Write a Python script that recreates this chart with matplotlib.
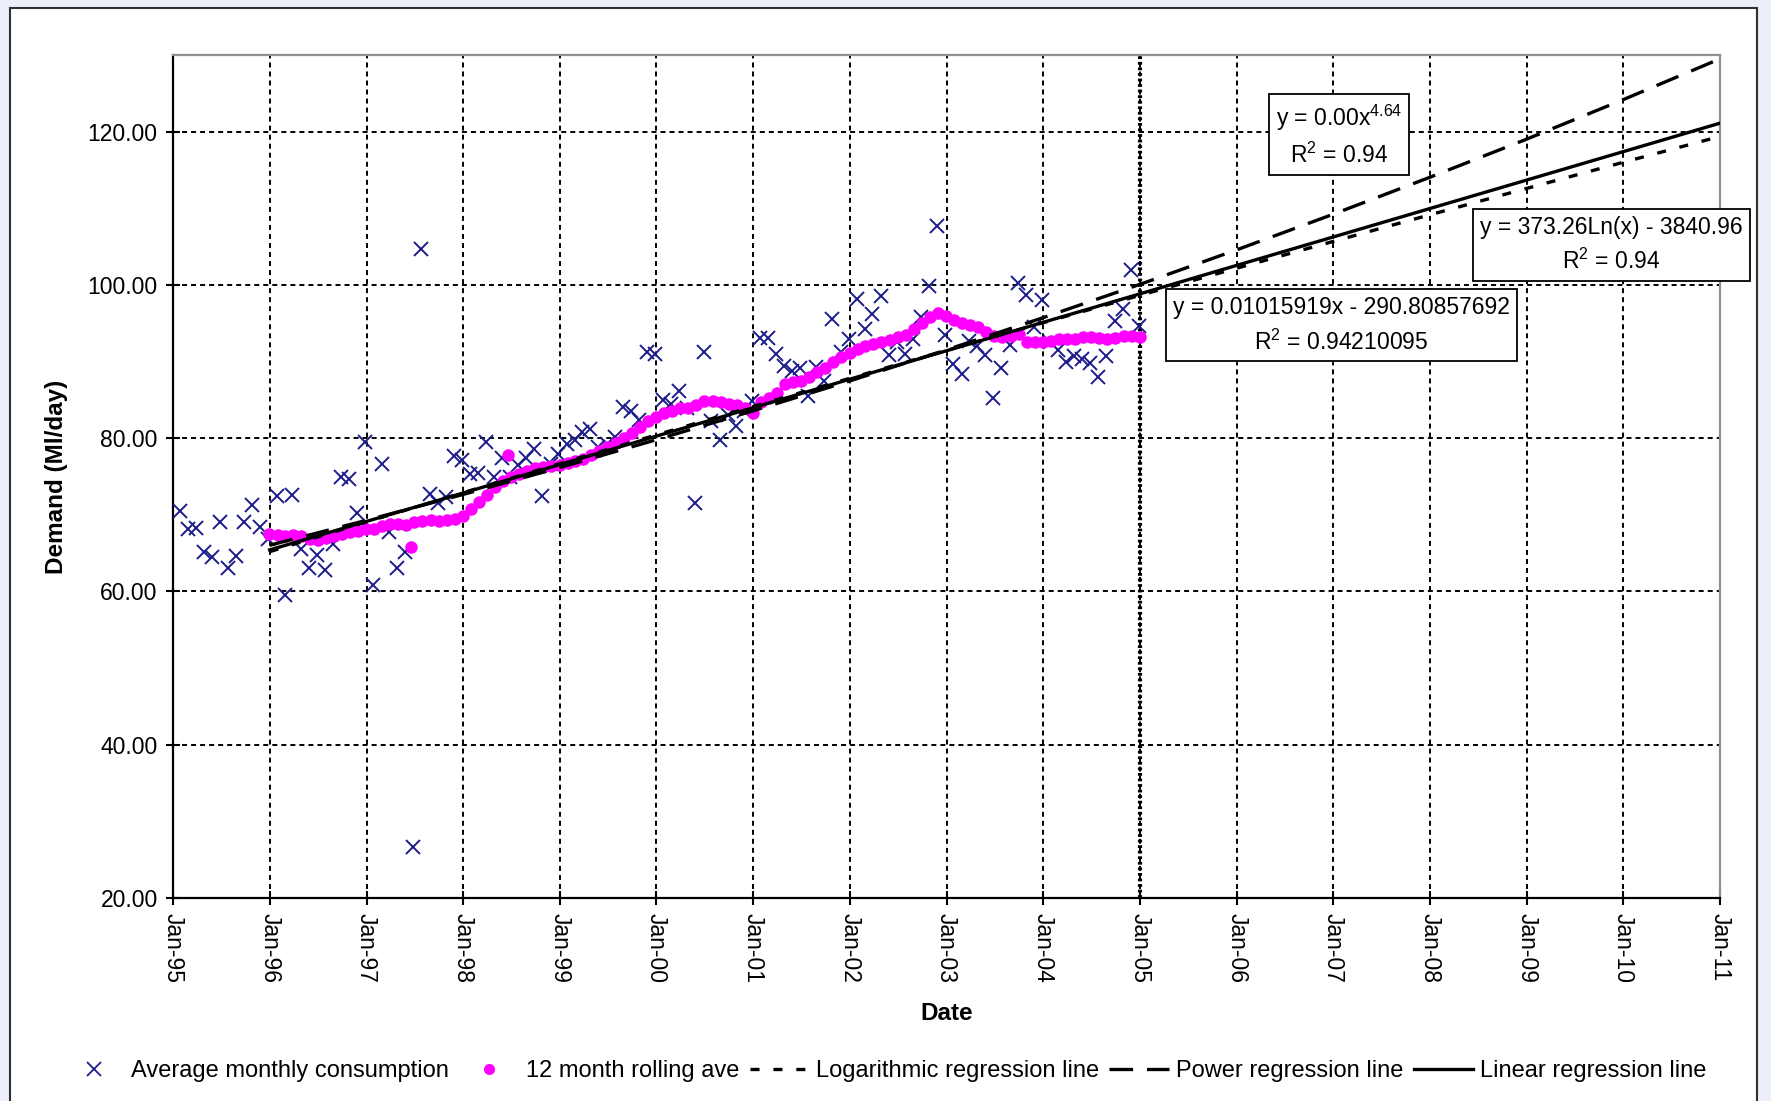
import datetime as dt
import matplotlib
matplotlib.use("Agg")
import matplotlib.pyplot as plt
import matplotlib.dates as mdates
from matplotlib.patches import Rectangle
from matplotlib.lines import Line2D
import pandas as pd

plt.rcParams['font.family'] = ['Liberation Sans', 'DejaVu Sans']
plt.rcParams['mathtext.fontset'] = 'custom'
plt.rcParams['mathtext.rm'] = 'Liberation Sans'
plt.rcParams['lines.scale_dashes'] = False

# average monthly consumption (Ml/day), Jan-95 .. Dec-04
monthly = [70.5, 68.1, 68.3, 65.1, 64.5, 69.1, 63.0, 64.6, 69.0, 71.3, 68.4, 66.9,
           72.5, 59.6, 72.6, 65.5, 63.1, 64.8, 62.8, 66.2, 74.9, 74.7, 70.3, 79.5,
           60.8, 76.6, 67.7, 63.0, 65.1, 26.6, 104.7, 72.7, 71.5, 72.3, 77.7, 77.1,
           75.3, 75.5, 79.5, 74.9, 77.4, 74.9, 76.5, 77.4, 78.6, 72.5, 76.6, 78.0,
           79.2, 79.7, 80.8, 81.2, 78.8, 79.2, 80.1, 84.1, 83.6, 82.4, 91.2, 91.0,
           85.0, 84.5, 86.2, 84.0, 71.5, 91.3, 82.2, 79.8, 83.0, 81.6, 83.5, 84.9,
           93.1, 93.1, 91.05, 89.4, 88.8, 89.1, 85.5, 89.3, 87.5, 95.5, 91.2, 92.9,
           98.1, 94.2, 96.2, 98.6, 90.8, 92.5, 91.0, 92.9, 95.8, 99.9, 107.7, 93.5,
           89.7, 88.4, 92.7, 92.05, 90.8, 85.3, 89.2, 92.2, 100.3, 98.7, 94.5, 98.0,
           92.6, 91.5, 90.0, 90.7, 90.4, 89.8, 88.0, 90.7, 95.3, 96.8, 102.0, 94.7]
monthly_dates = pd.date_range('1995-01-01', periods=len(monthly), freq='MS') + pd.Timedelta(days=26)

# 12 month rolling average, Dec-95 .. Dec-04
rolling = [67.5, 67.4, 67.3, 67.4, 67.2, 66.9, 66.7, 67.0, 67.3, 67.5, 67.7, 67.9,
           68.1, 68.2, 68.5, 68.8, 68.8, 68.7, 69.0, 69.2, 69.3, 69.2, 69.3, 69.5,
           69.8, 70.8, 71.7, 72.6, 73.6, 74.4, 74.9, 75.3, 75.7, 76.1, 76.3, 76.4,
           76.5, 76.7, 77.0, 77.3, 77.8, 78.3, 78.9, 79.4, 80.0, 80.7, 81.5, 82.2,
           82.8, 83.3, 83.6, 83.9, 84.0, 84.3, 84.9, 84.8, 84.7, 84.5, 84.3, 84.0,
           83.3, 84.7, 85.3, 85.9, 87.1, 87.3, 87.4, 88.0, 88.6, 89.2, 90.0, 90.6,
           91.1, 91.6, 92.0, 92.3, 92.5, 92.8, 93.2, 93.5, 94.2, 95.0, 95.8, 96.3,
           96.0, 95.4, 95.0, 94.8, 94.5, 93.9, 93.3, 93.2, 93.4, 93.6, 92.6, 92.5,
           92.5, 92.7, 92.9, 92.9, 93.0, 93.2, 93.2, 93.1, 92.9, 93.1, 93.4, 93.3,
           93.2]
rolling_dates = pd.date_range('1995-12-31', periods=len(rolling), freq='ME')
rolling_extra = [65.8, 77.85]
rolling_extra_dates = pd.to_datetime(['1997-06-18', '1998-06-18'])

# regression lines, value at 1 Jan of each year
trend_years = list(range(1996, 2012))
log_trend = [65.19, 69.07, 72.89, 76.68, 80.43, 84.15, 87.82, 91.46,
             95.07, 98.65, 102.18, 105.68, 109.15, 112.60, 116.01, 119.38]
power_trend = [66.03, 69.29, 72.66, 76.17, 79.80, 83.58, 87.48, 91.53,
               95.73, 100.08, 104.58, 109.23, 114.05, 119.03, 124.19, 129.51]
linear_trend = [65.42, 69.14, 72.85, 76.56, 80.27, 83.99, 87.70, 91.41,
                95.12, 98.84, 102.55, 106.26, 109.97, 113.69, 117.40, 121.11]
trend_dates = [dt.datetime(y, 1, 1) for y in trend_years]

NAVY = '#1c1c8a'
MAGENTA = '#ff00ff'
FS = 16.5

fig = plt.figure(figsize=(17.71, 11.01), dpi=100, facecolor='#eceefa')
fig.patches.append(Rectangle((10 / 1771, -0.01), 1747 / 1771, 1 - 8 / 1101 + 0.01,
                             transform=fig.transFigure, fc='white', ec='#303030',
                             lw=1.5, zorder=-10))

ax = fig.add_axes([0.0977, 0.1844, 0.8735, 0.7656])
ax.set_zorder(1)

ax.plot(monthly_dates, monthly, ls='none', marker='x', ms=10, mew=1.4, color=NAVY, zorder=3)
ax.plot(rolling_dates, rolling, ls='none', marker='o', ms=9, mew=0, color=MAGENTA, zorder=4)
ax.plot(rolling_extra_dates, rolling_extra, ls='none', marker='o', ms=9, mew=0, color=MAGENTA, zorder=4)

ax.plot(trend_dates, log_trend, color='black', lw=2.4, dashes=(6.5, 10), zorder=5)
ax.plot(trend_dates, power_trend, color='black', lw=2.4, dashes=(17, 10), zorder=5)
ax.plot(trend_dates, linear_trend, color='black', lw=2.4, zorder=5)

ax.axvline(dt.datetime(2005, 1, 1), color='black', lw=3, dashes=(2, 2), zorder=2)

ax.set_xlim(dt.datetime(1995, 1, 1), dt.datetime(2011, 1, 1))
ax.set_ylim(20, 130)
ax.set_yticks([20, 40, 60, 80, 100, 120])
ax.yaxis.set_major_formatter(matplotlib.ticker.FormatStrFormatter('%.2f'))
ax.xaxis.set_major_locator(mdates.YearLocator())
ax.xaxis.set_major_formatter(mdates.DateFormatter('%b-%y'))
for lbl in ax.get_xticklabels():
    lbl.set_rotation(-90)

ax.grid(True, color='black', lw=1.4, dashes=(3.6, 2.9))
ax.tick_params(direction='inout', length=10, width=1.5, labelsize=FS)
ax.tick_params(axis='x', pad=6)
ax.tick_params(axis='y', pad=6)
for side in ('left', 'bottom'):
    ax.spines[side].set_color('black')
    ax.spines[side].set_linewidth(1.6)
for side in ('top', 'right'):
    ax.spines[side].set_color('#909090')
    ax.spines[side].set_linewidth(1.6)

ax.set_xlabel('Date', fontsize=FS + 1, fontweight='bold')
ax.xaxis.set_label_coords(0.5, -0.124)
ax.set_ylabel('Demand (Ml/day)', fontsize=FS + 1, fontweight='bold')
ax.yaxis.set_label_coords(-0.068, 0.5)

box = dict(boxstyle='square,pad=0.3', fc='white', ec='black', lw=1.3)
fig.text(0.7561, 0.8769, 'y = 0.00x$^{4.64}$\nR$^{2}$ = 0.94', fontsize=FS,
         ha='center', va='center', multialignment='center', linespacing=1.5, bbox=box, zorder=10)
fig.text(0.9099, 0.7775, 'y = 373.26Ln(x) - 3840.96\nR$^{2}$ = 0.94', fontsize=FS,
         ha='center', va='center', multialignment='center', linespacing=1.5, bbox=box, zorder=10)
fig.text(0.7575, 0.7044, 'y = 0.01015919x - 290.80857692\nR$^{2}$ = 0.94210095', fontsize=FS,
         ha='center', va='center', multialignment='center', linespacing=1.5, bbox=box, zorder=10)

handles = [
    Line2D([], [], ls='none', marker='x', ms=10, mew=1.3, color=NAVY),
    Line2D([], [], ls='none', marker='o', ms=8, mew=0, color=MAGENTA),
    Line2D([], [], color='black', lw=2.4, dashes=(6.5, 10)),
    Line2D([], [], color='black', lw=2.4, dashes=(17, 10)),
    Line2D([], [], color='black', lw=2.4),
]
labels = ['Average monthly consumption', '12 month rolling ave',
          'Logarithmic regression line', 'Power regression line', 'Linear regression line']
fig.legend(handles, labels, loc='center', bbox_to_anchor=(0.5, 0.027), ncol=5,
           frameon=False, fontsize=17, handlelength=2.5, handletextpad=0.3,
           columnspacing=0.45)

fig.savefig('out.png', dpi=100, facecolor=fig.get_facecolor())
